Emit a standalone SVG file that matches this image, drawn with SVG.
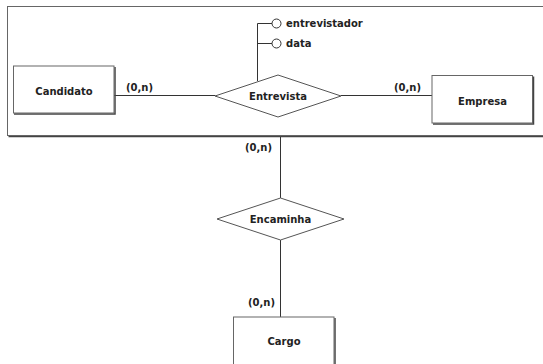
<svg xmlns="http://www.w3.org/2000/svg" width="543" height="364" viewBox="0 0 543 364">
<style>
.box{fill:#fff;stroke:#666;stroke-width:1}
.shadow{fill:none;stroke:#444;stroke-width:1.5}
.ln{fill:none;stroke:#333;stroke-width:1}
.rel{fill:#fff;stroke:#555;stroke-width:1}
.att{fill:#fff;stroke:#333;stroke-width:1}
text{font-family:"DejaVu Sans",sans-serif;font-weight:bold;font-size:10px;fill:#222}
.c{text-anchor:middle}
</style>
<g id="aggregation">
<path class="shadow" d="M8.5 136.5 H543"/>
<rect class="box" x="7.5" y="6.5" width="545" height="129"/>
</g>
<g id="connectors">
<line class="ln" x1="114" y1="95.5" x2="215" y2="95.5"/>
<line class="ln" x1="341" y1="95.5" x2="432" y2="95.5"/>
<polyline class="ln" points="257.5,81 257.5,23.5 272,23.5"/>
<line class="ln" x1="257.5" y1="43.5" x2="272" y2="43.5"/>
<line class="ln" x1="280.5" y1="137" x2="280.5" y2="198"/>
<line class="ln" x1="280.5" y1="240" x2="280.5" y2="317"/>
<text x="126" y="91">(0,n)</text>
<text x="394" y="91">(0,n)</text>
<text x="245" y="151">(0,n)</text>
<text x="248" y="306">(0,n)</text>
</g>
<g id="candidato">
<path class="shadow" d="M115 67 V114 H14"/>
<rect class="box" x="13.5" y="66" width="100.5" height="47"/>
<text class="c" x="64" y="95">Candidato</text>
</g>
<g id="entrevista">
<polygon class="rel" points="215,96 278,75 341,96 278,117"/>
<text class="c" x="278" y="99.5">Entrevista</text>
</g>
<g id="empresa">
<path class="shadow" d="M533.5 76.5 V124 H433"/>
<rect class="box" x="432" y="75.5" width="100.5" height="47.5"/>
<text class="c" x="482.5" y="105">Empresa</text>
</g>
<g id="attr-entrevistador">
<circle class="att" cx="276.5" cy="23.5" r="4.5"/>
<text x="286" y="27">entrevistador</text>
</g>
<g id="attr-data">
<circle class="att" cx="276.5" cy="43.5" r="4.5"/>
<text x="286" y="47">data</text>
</g>
<g id="encaminha">
<polygon class="rel" points="217,219 280.5,198 344,219 280.5,240"/>
<text class="c" x="280.5" y="222.5">Encaminha</text>
</g>
<g id="cargo">
<path class="shadow" d="M335 318 V364"/>
<rect class="box" x="233.5" y="317" width="100.5" height="60"/>
<text class="c" x="284" y="345">Cargo</text>
</g>
</svg>
